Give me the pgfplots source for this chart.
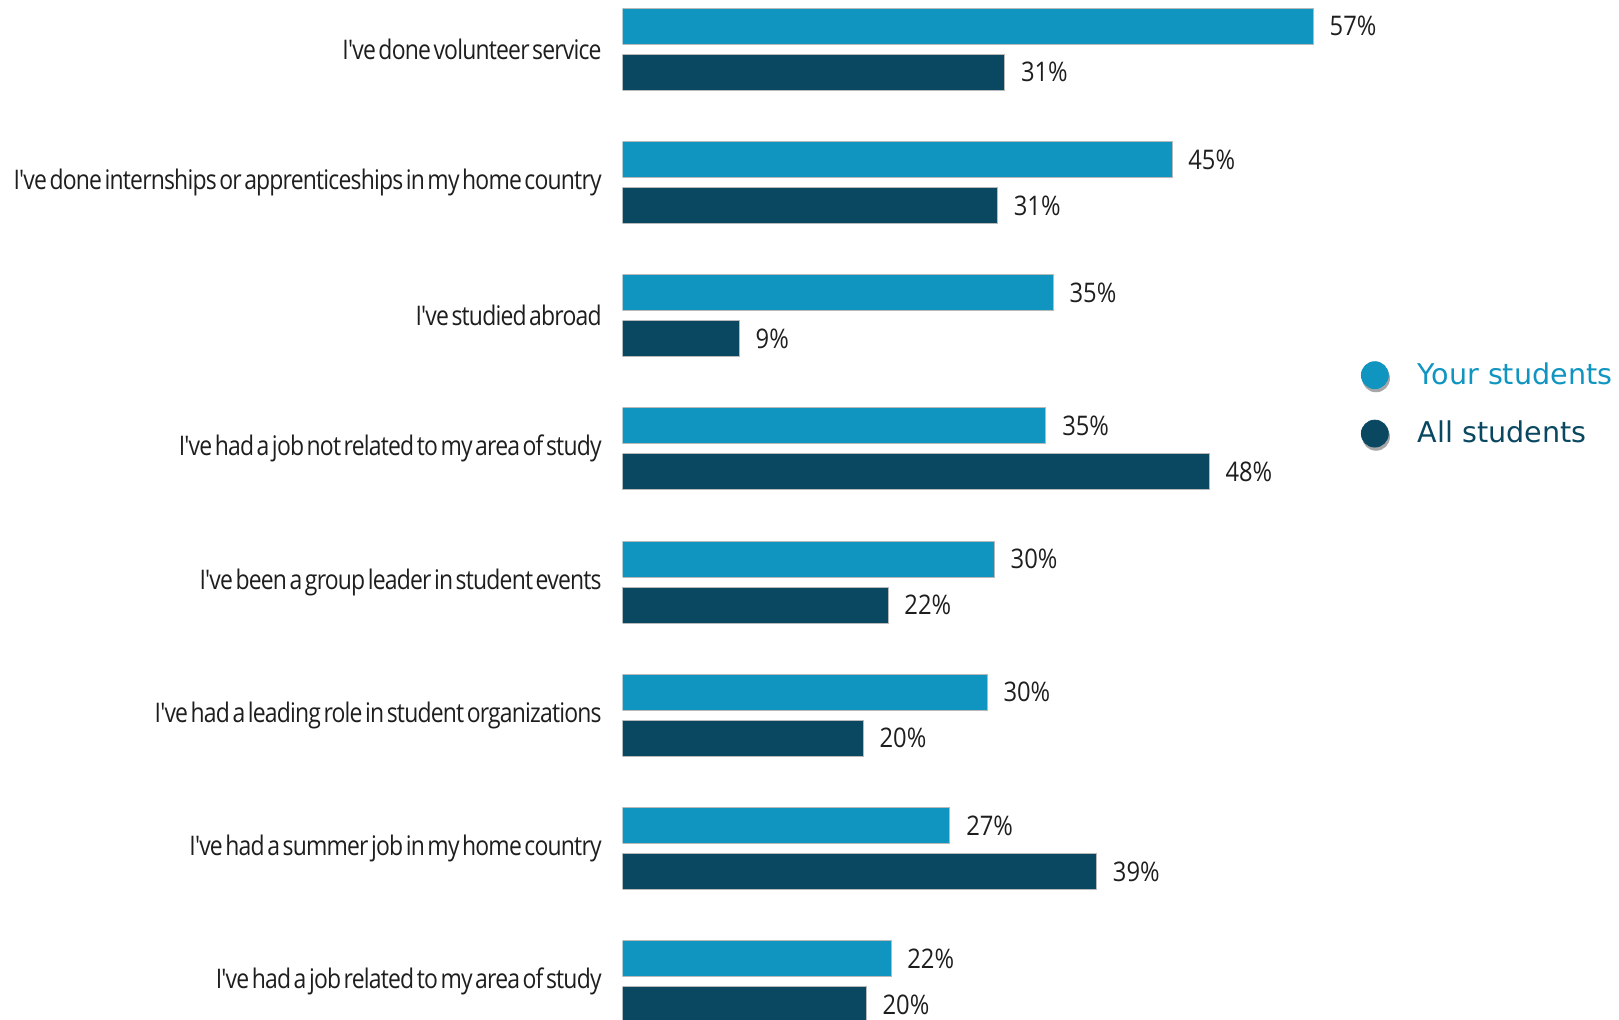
\documentclass[border=0pt]{standalone}
\usepackage{pgfplots}
\pgfplotsset{compat=1.18}
\usepackage{fontspec}
\newfontfamily\labelfont{Open Sans}[FakeStretch=0.85, WordSpace=0.5, LetterSpace=-3]
\newfontfamily\valfont{Open Sans}[FakeStretch=0.88]
\newfontfamily\legfont{DejaVu Sans}
\definecolor{lightc}{RGB}{16,149,193}
\definecolor{darkc}{RGB}{9,72,96}
\definecolor{txt}{RGB}{30,30,30}
\newcommand{\lf}{\labelfont\fontsize{13.5bp}{16bp}\selectfont}
\newcommand{\vf}{\valfont\fontsize{13.5bp}{16bp}\selectfont}
\begin{document}
\begin{tikzpicture}
\useasboundingbox (0,0) rectangle (809.5bp,510bp);
\begin{axis}[
  at={(311.3bp,0bp)}, anchor=south west,
  width=498.2bp, height=510bp, scale only axis,
  xmin=0, xmax=81.87, ymin=0, ymax=1020,
  axis line style={draw=none},
  xtick=\empty,
  ytick={970.7,837.5,704.3,571.1,437.9,304.7,171.5,38.3},
  yticklabels={I've done volunteer service,
    I've done internships or apprenticeships in my home country,
    I've studied abroad,
    I've had a job not related to my area of study,
    I've been a group leader in student events,
    I've had a leading role in student organizations,
    I've had a summer job in my home country,
    I've had a job related to my area of study},
  major tick length=0pt,
  yticklabel style={font=\lf, text=txt, anchor=east, inner sep=0pt, xshift=-10.3bp},
  xbar, bar width=18bp,
  point meta=explicit symbolic,
  nodes near coords={\pgfplotspointmeta\%},
  every node near coord/.append style={font=\vf, text=txt, anchor=west, inner sep=0pt, xshift=8bp},
  legend style={draw=none, fill=none, at={(0.7406,0.6486)}, anchor=north west,
    font=\legfont\fontsize{14.3bp}{17bp}\selectfont, inner sep=0pt, row sep=12.5bp,
    column sep=12bp},
  legend cell align=left,
]
\addplot[bar shift=0pt, fill=lightc, draw=gray!55, line width=0.4bp,
  legend image code/.code={\fill[black!35] (0.6bp,-1.6bp) circle[radius=6.75bp]; \fill[lightc] (0,0) circle[radius=6.75bp];}]
  coordinates {
  (56.75,993.7) [57]
  (45.14,860.5) [45]
  (35.38,727.3) [35]
  (34.78,594.1) [35]
  (30.54,460.9) [30]
  (29.95,327.7) [30]
  (26.89,194.5) [27]
  (22.05,61.3) [22]
  };
\addlegendentry{\textcolor{lightc}{Your students}}
\addplot[bar shift=0pt, fill=darkc, draw=gray!55, line width=0.4bp,
  legend image code/.code={\fill[black!35] (0.6bp,-1.6bp) circle[radius=6.75bp]; \fill[darkc] (0,0) circle[radius=6.75bp];}]
  coordinates {
  (31.39,947.7) [31]
  (30.80,814.5) [31]
  (9.59,681.3) [9]
  (48.19,548.1) [48]
  (21.81,414.9) [22]
  (19.77,281.7) [20]
  (38.94,148.5) [39]
  (20.02,15.3) [20]
  };
\addlegendentry{\textcolor{darkc}{All students}}
\end{axis}
\end{tikzpicture}
\end{document}
